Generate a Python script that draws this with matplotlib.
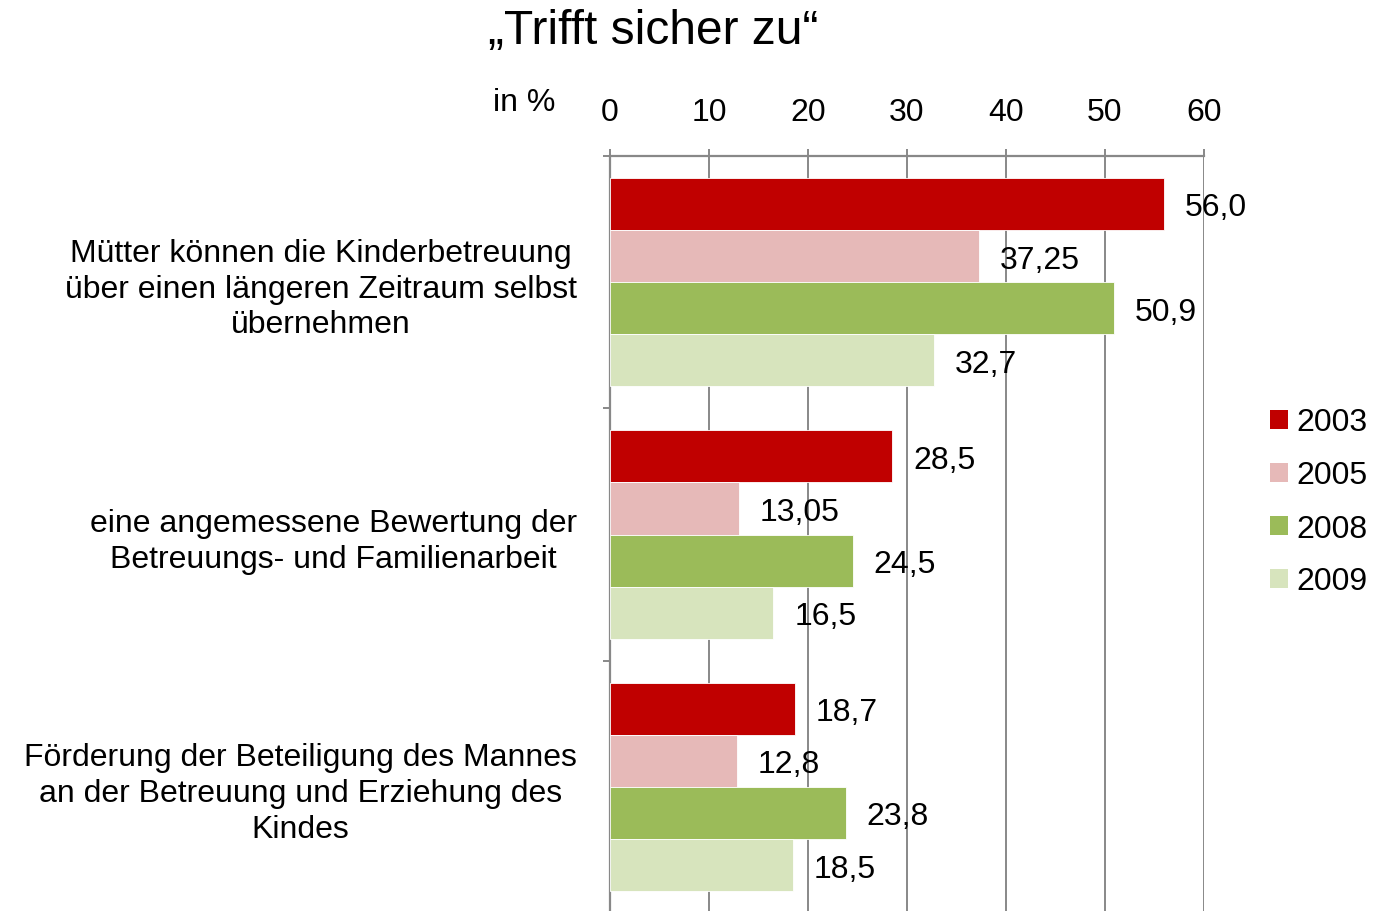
import matplotlib.pyplot as plt
import numpy as np
from matplotlib.patches import Patch

plt.rcParams["font.family"] = ["Liberation Sans", "DejaVu Sans"]

# data
categories = [
    "Mütter können die Kinderbetreuung\nüber einen längeren Zeitraum selbst\nübernehmen",
    "eine angemessene Bewertung der\nBetreuungs- und Familienarbeit",
    "Förderung der Beteiligung des Mannes\nan der Betreuung und Erziehung des\nKindes",
]
years = ["2003", "2005", "2008", "2009"]
values_2003 = [56.0, 28.5, 18.7]
values_2005 = [37.25, 13.05, 12.8]
values_2008 = [50.9, 24.5, 23.8]
values_2009 = [32.7, 16.5, 18.5]
colors = ["#C00000", "#E6B9B8", "#9BBB59", "#D7E4BD"]
x_ticks = [0, 10, 20, 30, 40, 50, 60]


def fmt(v):
    s = f"{v:.2f}".rstrip("0")
    if s.endswith("."):
        s += "0"
    return s.replace(".", ",")


fig = plt.figure(figsize=(13.75, 9.12), dpi=100)
ax = fig.add_axes([610 / 1375, 1 - 914 / 912, 594 / 1375, 757 / 912])

series = [values_2003, values_2005, values_2008, values_2009]
bar_h = 0.2066
y = np.arange(len(categories))
for i, (vals, col, year) in enumerate(zip(series, colors, years)):
    pos = y - 1.5 * bar_h + i * bar_h
    bars = ax.barh(pos, vals, height=bar_h, color=col, edgecolor="white",
                   linewidth=0.6, zorder=3, label=year)
    for p, v in zip(pos, vals):
        ax.annotate(fmt(v), (v, p), xytext=(15, -2.5), textcoords="offset points",
                    va="center", ha="left", fontsize=23, zorder=5)

ax.set_xlim(0, 60)
ax.set_ylim(2.5, -0.5)
ax.xaxis.tick_top()
ax.set_xticks(x_ticks)
ax.tick_params(axis="x", direction="out", length=5, width=1.4, color="#888888",
               labelsize=23, pad=16)
ax.set_yticks(y)
ax.set_yticklabels(categories, fontsize=23, ha="right", multialignment="center",
                   linespacing=1.25)
ax.tick_params(axis="y", which="major", length=0, pad=24)
ax.set_yticks([-0.5, 0.5, 1.5, 2.5], minor=True)
ax.tick_params(axis="y", which="minor", direction="out", length=5, width=1.4,
               color="#888888")
ax.grid(axis="x", color="#888888", linewidth=1.4, zorder=0)
ax.set_axisbelow(True)
for side in ["right", "bottom"]:
    ax.spines[side].set_visible(False)
for side in ["left", "top"]:
    ax.spines[side].set_color("#888888")
    ax.spines[side].set_linewidth(1.6)

fig.text(653 / 1375, 1 - 31 / 912, "\u201eTrifft sicher zu\u201c", fontsize=34.5,
         ha="center", va="center")
fig.text(524 / 1375, 1 - 103 / 912, "in %", fontsize=23, ha="center", va="center")

handles = [Patch(facecolor=c, edgecolor="none") for c in colors]
fig.legend(handles, years, loc="center left", bbox_to_anchor=(1254 / 1375, 1 - 503 / 912),
           frameon=False, fontsize=23, handlelength=0.55, handleheight=0.55,
           handletextpad=0.28, labelspacing=0.72, borderpad=0)

fig.savefig("out.png", dpi=100)
